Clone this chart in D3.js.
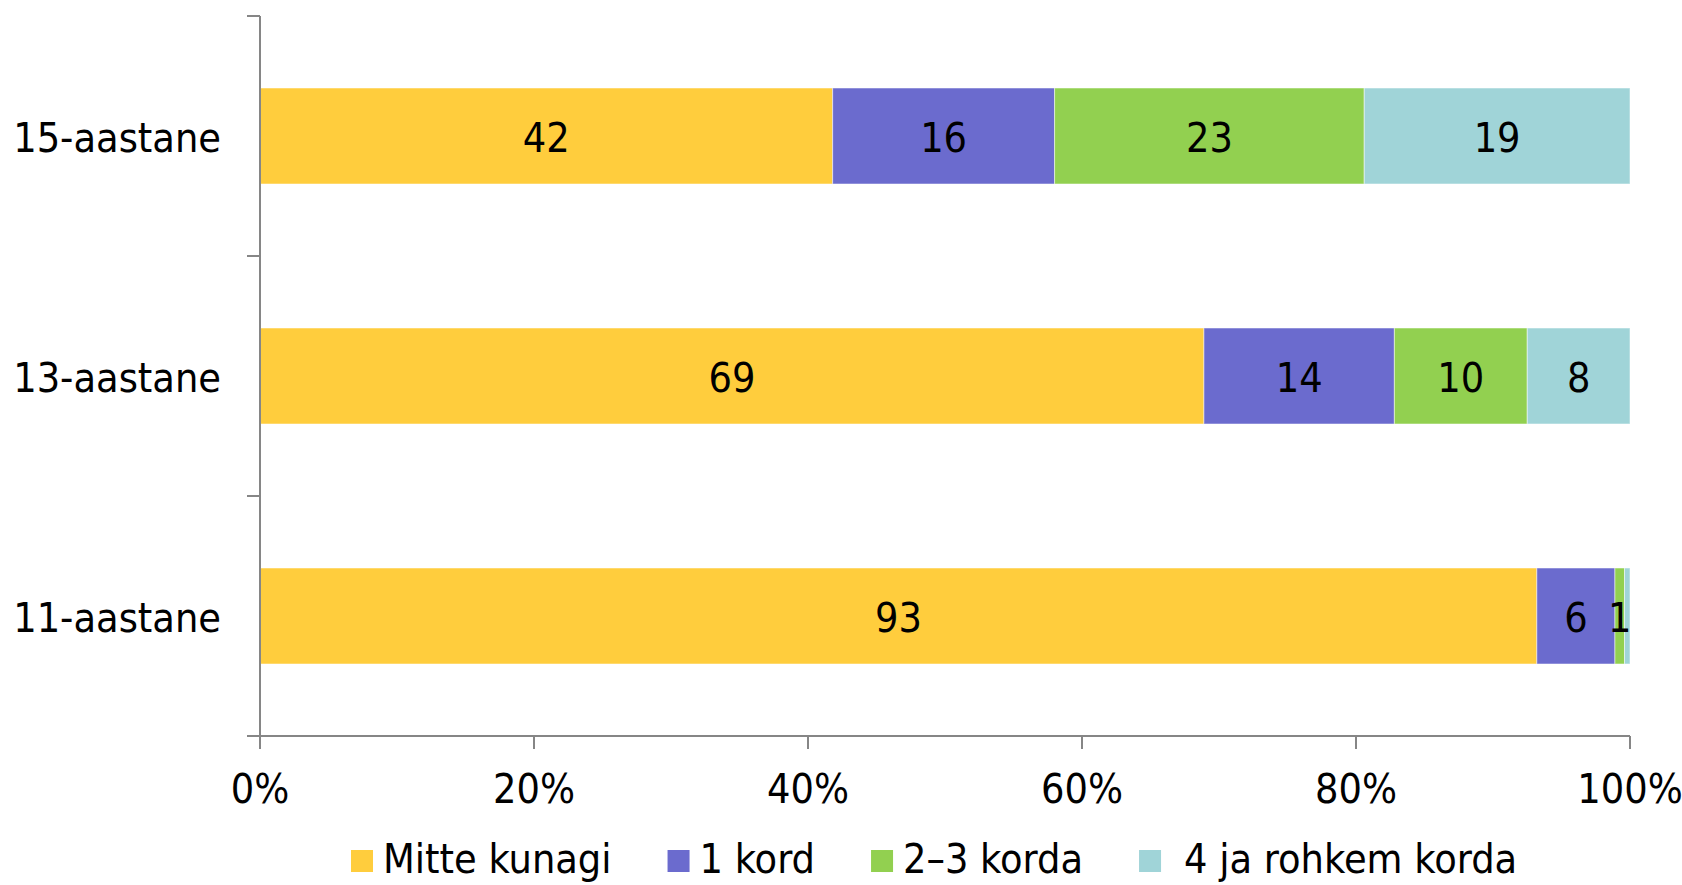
<!DOCTYPE html>
<html>
<head>
<meta charset="utf-8">
<script src="https://cdn.jsdelivr.net/npm/d3@7"></script>
<style>
    body { margin: 0; background: #fff; }
    svg text { font-family: "DejaVu Sans Condensed", "DejaVu Sans", sans-serif; font-stretch: condensed; fill: #000; }
</style>
</head>
<body>
<svg id="chart" width="1682" height="885"></svg>
<script>
// Chart data
const categories = ["15-aastane", "13-aastane", "11-aastane"];
const seriesNames = ["Mitte kunagi", "1 kord", "2–3 korda", "4 ja rohkem korda"];
const seriesColors = ["#FFCD3D", "#6B6BCE", "#92D050", "#A0D4D8"];
const values15 = [41.8, 16.2, 22.6, 19.4];
const values13 = [68.9, 13.9, 9.7, 7.5];
const values11 = [93.2, 5.7, 0.7, 0.4];
const xTicks = [0, 20, 40, 60, 80, 100];

const rows = [values15, values13, values11];

const svg = d3.select("#chart");
const fontSize = 41;
const axisColor = "#868686";

const margin = {left: 260, right: 52, top: 16, bottom: 149};
const width  = 1682 - margin.left - margin.right;
const height = 885 - margin.top - margin.bottom;

const x = d3.scaleLinear().domain([0, 100]).range([margin.left, margin.left + width]);
const y = d3.scaleBand()
    .domain(categories)
    .range([margin.top, margin.top + height])
    .paddingInner(0.6)
    .paddingOuter(0.3);

// Stack the segments of each row
const stacked = [];
rows.forEach((vals, r) => {
    let acc = 0;
    vals.forEach((v, s) => {
        stacked.push({cat: categories[r], series: s, x0: acc, x1: acc + v, value: v});
        acc += v;
    });
});

const bars = svg.append("g").attr("class", "bars");

bars.selectAll("rect")
    .data(stacked)
    .enter()
    .append("rect")
    .attr("x", d => x(d.x0))
    .attr("y", d => y(d.cat))
    .attr("width", d => x(d.x1) - x(d.x0))
    .attr("height", y.bandwidth())
    .attr("fill", d => seriesColors[d.series])
    .attr("stroke", "#ffffff")
    .attr("stroke-opacity", 0.5)
    .attr("stroke-width", 1);

// Value labels (hidden when they round to zero)
bars.selectAll("text")
    .data(stacked.filter(d => Math.round(d.value) >= 1))
    .enter()
    .append("text")
    .attr("x", d => (x(d.x0) + x(d.x1)) / 2)
    .attr("y", d => y(d.cat) + y.bandwidth() / 2)
    .attr("dy", "0.38em")
    .attr("text-anchor", "middle")
    .style("font-size", fontSize + "px")
    .text(d => Math.round(d.value));

// Axes
const axes = svg.append("g").attr("class", "axes")
    .attr("stroke", axisColor)
    .attr("stroke-width", 2);

const y0 = y.range()[0];
const y1 = y.range()[1];
const x0 = x.range()[0];

axes.append("line")
    .attr("x1", x0).attr("x2", x0)
    .attr("y1", y0).attr("y2", y1);

axes.append("line")
    .attr("x1", x0).attr("x2", x.range()[1])
    .attr("y1", y1).attr("y2", y1);

// Y ticks sit on band boundaries
axes.selectAll("line.ytick")
    .data(d3.range(categories.length + 1))
    .enter()
    .append("line")
    .attr("class", "ytick")
    .attr("x1", x0 - 13).attr("x2", x0)
    .attr("y1", i => y0 + i * y.step())
    .attr("y2", i => y0 + i * y.step());

axes.selectAll("line.xtick")
    .data(xTicks)
    .enter()
    .append("line")
    .attr("class", "xtick")
    .attr("x1", d => x(d)).attr("x2", d => x(d))
    .attr("y1", y1).attr("y2", y1 + 13);

svg.append("g").selectAll("text")
    .data(xTicks)
    .enter()
    .append("text")
    .attr("x", d => x(d))
    .attr("y", 803)
    .attr("text-anchor", "middle")
    .style("font-size", fontSize + "px")
    .text(d => d + "%");

svg.append("g").selectAll("text")
    .data(categories)
    .enter()
    .append("text")
    .attr("x", 221)
    .attr("y", d => y(d) + y.bandwidth() / 2)
    .attr("dy", "0.38em")
    .attr("text-anchor", "end")
    .style("font-size", fontSize + "px")
    .text(d => d);

// Legend
const legend = svg.append("g").attr("class", "legend");
const swatch = 22;
let lx = 351;
seriesNames.forEach((name, i) => {
    const item = legend.append("g");
    item.append("rect")
        .attr("x", lx)
        .attr("y", 850)
        .attr("width", swatch)
        .attr("height", swatch)
        .attr("fill", seriesColors[i]);
    const pad = swatch + 10 + (i === 3 ? 13 : 0);
    const txt = item.append("text")
        .attr("x", lx + pad)
        .attr("y", 873)
        .style("font-size", fontSize + "px")
        .text(name);
    lx += pad + txt.node().getComputedTextLength() + 56;
});
</script>
</body>
</html>
